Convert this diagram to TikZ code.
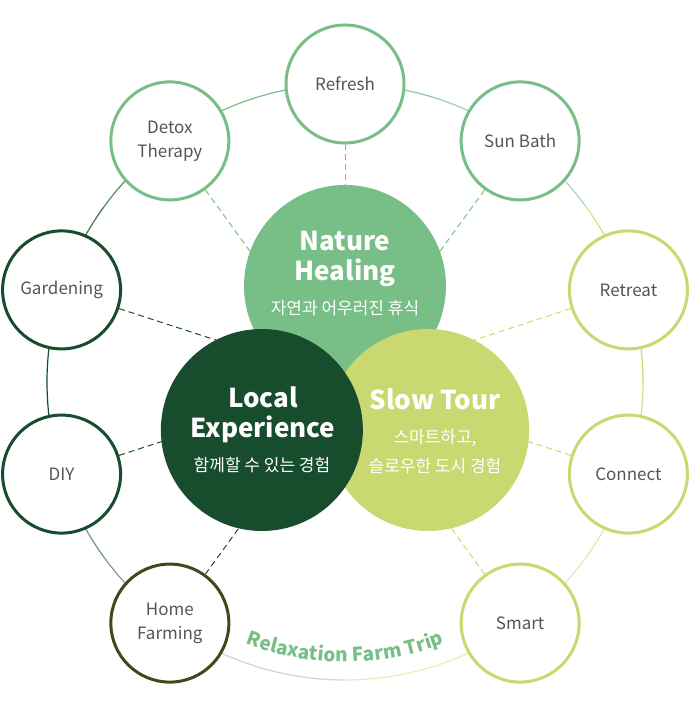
\documentclass[tikz,border=0pt]{standalone}
\usepackage{fontspec}
\setmainfont{Noto Sans CJK KR}
\usetikzlibrary{backgrounds,decorations.text}
\definecolor{leaf}{HTML}{78BF87}
\definecolor{forest}{HTML}{174C2D}
\definecolor{lime}{HTML}{C9D870}
\definecolor{olive}{HTML}{3E4A1B}
\definecolor{labelgray}{HTML}{555555}
\newcommand{\ringR}{298}
\newcommand{\relaxfont}{\fontsize{19}{19}\selectfont\bfseries}
\tikzset{
  petal/.style={
    circle, line width=3pt, fill=white, minimum size=118pt,
    inner sep=0pt, align=center, text=labelgray,
    font=\fontsize{17}{24}\selectfont
  },
  core/.style={circle, minimum size=202pt, inner sep=0pt},
  coretitle/.style={text=white, align=center, inner sep=0pt,
    font=\fontsize{26}{30}\selectfont\bfseries},
  coresub/.style={text=white, align=center, inner sep=0pt,
    font=\fontsize{17}{29}\selectfont},
  ring/.style={line width=1.2pt},
  spoke/.style={line width=1pt, dash pattern=on 6pt off 4pt},
}

\begin{document}
\begin{tikzpicture}[x=1pt,y=1pt]
  \useasboundingbox (0,0) rectangle (690,704);
  \coordinate (hub) at (345,322);

  % three core circles
  \node[core, fill=leaf] (nature) at ([shift={(90:96)}]hub) {};
  \node[core, fill=lime] (slow) at ([shift={(-30:96)}]hub) {};
  \node[core, fill=forest] (local) at ([shift={(210:96)}]hub) {};

  \node[coretitle] (natureTitle) at (345,445) {Nature\\Healing};
  \node[coresub] (natureSub) at (345,396) {자연과 어우러진 휴식};
  \node[coretitle] (localTitle) at (263,289) {Local\\Experience};
  \node[coresub] (localSub) at (262,239) {함께할 수 있는 경험};
  \node[coretitle] (slowTitle) at (435,305) {Slow Tour};
  \node[coresub] (slowSub) at (435,252) {스마트하고,\\슬로우한 도시 경험};

  % outer ring of keywords
  \foreach \name/\ang/\col/\txt in {
      refresh/90/leaf/Refresh, sunbath/54/leaf/Sun Bath,
      retreat/18/lime/Retreat, connect/-18/lime/Connect,
      smart/-54/lime/Smart, home/234/olive/{Home\\Farming},
      diy/198/forest/DIY, gardening/162/forest/Gardening,
      detox/126/leaf/{Detox\\Therapy}}
    \node[petal, draw=\col] (\name) at ([shift={(\ang:\ringR)}]hub) {\txt};

  \begin{scope}[on background layer]
    % ring arcs, half from each end
    \foreach \a/\b/\sa/\ca/\cb in {
        refresh/sunbath/90/leaf!85/leaf!70, sunbath/retreat/54/leaf!60/lime!80,
        retreat/connect/18/lime/lime!85, connect/smart/-18/lime!60/lime!55,
        detox/refresh/126/leaf/leaf, gardening/detox/162/forest!80/leaf!60!forest,
        diy/gardening/198/forest/forest, home/diy/234/forest!55/forest!60}{
      \draw[ring, \ca] (\a.center) arc[start angle=\sa, delta angle=-18, radius=\ringR];
      \draw[ring, \cb] (\b.center) arc[start angle=\sa-36, delta angle=18, radius=\ringR];
    }
    \draw[ring, lime!45] (smart.center) arc[start angle=-54, delta angle=-36, radius=\ringR];
    \draw[ring, gray!35] (home.center) arc[start angle=-126, delta angle=36, radius=\ringR];

    % dashed spokes
    \foreach \name/\col in {refresh/leaf, sunbath/leaf, detox/leaf,
        gardening/forest, diy/forest, home/forest,
        retreat/lime, connect/lime, smart/lime}
      \draw[spoke, \col] (\name) -- (hub);
  \end{scope}

  \path[decorate, decoration={text along path, text align=center,
      text color=leaf, text={|\relaxfont|Relaxation Farm Trip}}]
    ([shift={(-130:280)}]hub) arc[start angle=-130, end angle=-50, radius=280];
\end{tikzpicture}
\end{document}
